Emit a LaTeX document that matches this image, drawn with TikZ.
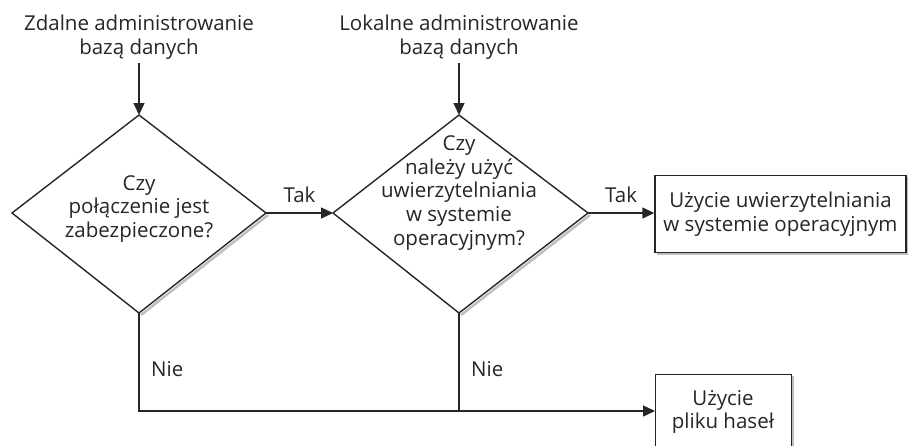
\documentclass[tikz,border=0pt]{standalone}
\usepackage{fontspec}
\setmainfont{Open Sans}
\usetikzlibrary{arrows.meta,calc}
\begin{document}
\begin{tikzpicture}[x=1pt,y=-1pt,
  every node/.style={font=\fontsize{20.5}{23.8}\selectfont, inner sep=0pt, text=black!85},
  txt/.style={align=center},
  line/.style={line width=1.4pt, black!85},
  arr/.style={line, -{Triangle[length=12pt,width=11pt]}},
  shad/.style={line width=2.5pt, black!25},
  lbl/.style={anchor=west}]
\useasboundingbox (0,0) rectangle (908,445);
% coordinates
\coordinate (d1t) at (139,115); \coordinate (d1l) at (12,213);
\coordinate (d1r) at (266,213); \coordinate (d1b) at (139,313);
\coordinate (d2t) at (459,115); \coordinate (d2l) at (333,213);
\coordinate (d2r) at (588,213); \coordinate (d2b) at (459,313);
% shadows
\draw[shad] ($(d1r)+(2,2)$) -- ($(d1b)+(2,2)$);
\draw[shad] ($(d2r)+(2,2)$) -- ($(d2b)+(2,2)$);
\draw[shad] (908,177) -- (908,254) -- (657,254);
\draw[shad] (793,376) -- (793,446);
% diamonds
\draw[line] (d1t) -- (d1r) -- (d1b) -- (d1l) -- cycle;
\draw[line] (d2t) -- (d2r) -- (d2b) -- (d2l) -- cycle;
\node[txt] (q1) at (139,209) {Czy\\połączenie jest\\zabezpieczone?};
\node[txt] (q2) at (459,193) {Czy\\należy użyć\\uwierzytelniania\\w systemie\\operacyjnym?};
% boxes
\node[draw, line, minimum width=251pt, minimum height=77pt, txt, fill=white] (b1) at (780.5,214) {Użycie uwierzytelniania\\w systemie operacyjnym};
\node[draw, line, minimum width=136pt, minimum height=90pt, txt, fill=white, anchor=north west] (b2) at (655,374) {};
\node[txt] (b2t) at (723,412) {Użycie\\pliku haseł};
% titles
\node[txt] (t1) at (139,37) {Zdalne administrowanie\\bazą danych};
\node[txt] (t2) at (459,37) {Lokalne administrowanie\\bazą danych};
\coordinate (t1b) at (139,63);
\coordinate (t2b) at (459,63);
% arrows
\draw[arr] (t1b) -- (d1t);
\draw[arr] (t2b) -- (d2t);
\draw[arr] (d1r) -- (d2l) node[midway, above=10pt] {Tak};
\draw[arr] (d2r) -- (b1.west |- d2r) node[midway, above=10pt] {Tak};
\coordinate (j) at (459,411);
\draw[line] (d1b) -- (139,411) -- (j);
\draw[line] (d2b) -- (j);
\draw[arr] (j) -- (b2.west |- j);
\node[lbl] (n1) at (151,369) {Nie};
\node[lbl] (n2) at (471,369) {Nie};
\end{tikzpicture}
\end{document}
